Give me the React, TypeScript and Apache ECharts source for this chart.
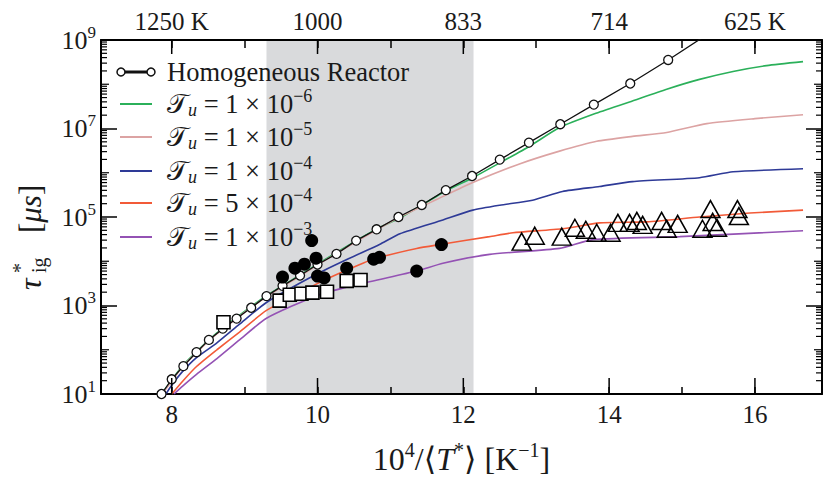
import React, { useEffect, useRef } from 'react';
import * as echarts from 'echarts';

const X_MIN = 7.03;
const X_MAX = 16.92;
const Y_MIN_EXP = 1;
const Y_MAX_EXP = 9;
const BAND = [9.3, 12.14];

const xMajorTicks = [8, 10, 12, 14, 16];
const topTickLabels = ['1250 K', '1000', '833', '714', '625 K'];

// Homogeneous reactor (open circles + black line)
const reactorX = [7.86, 8.0, 8.16, 8.34, 8.51, 8.7, 8.89, 9.09, 9.3, 9.52, 9.76, 10.0, 10.26, 10.53, 10.81, 11.11, 11.43, 11.76, 12.12, 12.5, 12.9, 13.33, 13.79, 14.29, 14.81];
const reactorTau = [1.0e1, 2.15e1, 4.26e1, 8.8e1, 1.67e2, 3.0e2, 5.06e2, 8.9e2, 1.63e3, 2.78e3, 4.76e3, 8.45e3, 1.47e4, 2.93e4, 5.27e4, 1.0e5, 1.87e5, 4.05e5, 8.45e5, 1.98e6, 4.8e6, 1.25e7, 3.47e7, 1.04e8, 3.54e8];
const reactorTailX = 15.38;
const reactorTailTau = 1.45e9;

// Tu = 1e-6
const g6X = [7.86, 8.0, 8.15, 8.34, 8.52, 8.89, 9.3, 9.76, 10.26, 10.81, 11.13, 11.77, 12.13, 12.5, 12.91, 13.32, 13.8, 14.28, 14.79, 15.24, 15.7, 16.16, 16.66];
const g6Tau = [1.0e1, 2.05e1, 4.4e1, 9.0e1, 1.75e2, 5.4e2, 1.67e3, 4.89e3, 1.58e4, 5.4e4, 9.5e4, 3.98e5, 7.74e5, 1.67e6, 3.98e6, 1.05e7, 2.15e7, 3.98e7, 7.74e7, 1.29e8, 1.95e8, 2.64e8, 3.24e8];

// Tu = 1e-5
const g5X = [7.87, 8.0, 8.15, 8.34, 8.52, 8.89, 9.3, 9.76, 10.26, 10.81, 11.13, 11.64, 12.13, 12.77, 13.32, 13.83, 14.32, 14.79, 15.34, 16.0, 16.66];
const g5Tau = [1.0e1, 1.95e1, 4.19e1, 8.57e1, 1.67e2, 5.14e2, 1.58e3, 4.64e3, 1.51e4, 5.14e4, 1.0e5, 2.51e5, 6.0e5, 1.58e6, 3.08e6, 5.14e6, 6.64e6, 8.15e6, 1.29e7, 1.67e7, 2.05e7];

// Tu = 1e-4
const g4X = [7.92, 8.0, 8.15, 8.34, 8.62, 8.93, 9.3, 9.99, 10.44, 10.85, 11.13, 11.72, 12.13, 12.5, 12.95, 13.36, 13.87, 14.32, 15.24, 15.7, 16.66];
const g4Tau = [1.0e1, 1.58e1, 3.24e1, 6.64e1, 1.43e2, 3.78e2, 1.17e3, 5.14e3, 1.17e4, 2.39e4, 4.19e4, 8.57e4, 1.43e5, 1.85e5, 2.39e5, 3.78e5, 4.89e5, 6.31e5, 7.74e5, 1.05e6, 1.23e6];

// Tu = 5e-4
const g54X = [8.0, 8.15, 8.34, 8.62, 8.93, 9.3, 9.99, 10.37, 10.76, 11.36, 11.68, 12.36, 12.68, 13.36, 13.87, 14.52, 15.24, 15.93, 16.66];
const g54Tau = [1.0e1, 1.95e1, 4.19e1, 1.0e2, 2.51e2, 7.74e2, 3.08e3, 6.0e3, 1.11e4, 1.95e4, 2.39e4, 3.6e4, 4.41e4, 5.41e4, 7.36e4, 7.74e4, 1.0e5, 1.23e5, 1.43e5];

// Tu = 1e-3
const g3X = [8.03, 8.15, 8.34, 8.62, 8.93, 9.3, 9.99, 10.58, 11.36, 11.72, 12.36, 13.32, 13.78, 14.97, 16.66];
const g3Tau = [1.0e1, 1.51e1, 2.78e1, 6.31e1, 1.67e2, 5.14e2, 1.67e3, 3.08e3, 6.0e3, 9.04e3, 1.43e4, 1.95e4, 3.08e4, 3.6e4, 4.89e4];

// Experimental points
const dotX = [9.52, 9.69, 9.82, 9.92, 9.98, 10.0, 10.09, 10.4, 10.77, 10.85, 11.36, 11.7];
const dotTau = [4.4e3, 6.98e3, 8.58e3, 2.93e4, 1.17e4, 4.64e3, 4.19e3, 6.98e3, 1.11e4, 1.23e4, 6.0e3, 2.39e4];

const squareX = [8.71, 9.48, 9.62, 9.78, 9.93, 10.13, 10.4, 10.59];
const squareTau = [4.19e2, 1.29e3, 1.75e3, 1.85e3, 1.95e3, 2.05e3, 3.6e3, 3.78e3];

const triX = [12.8, 12.98, 13.35, 13.53, 13.68, 13.83, 14.02, 14.12, 14.28, 14.38, 14.46, 14.72, 14.79, 14.94, 15.28, 15.39, 15.42, 15.48, 15.76, 15.78];
const triTau = [2.78e4, 3.78e4, 3.6e4, 5.7e4, 5.14e4, 4.41e4, 4.41e4, 7.36e4, 7.36e4, 8.15e4, 6.64e4, 8.15e4, 5.41e4, 6.99e4, 5.41e4, 1.51e5, 7.74e4, 5.7e4, 1.51e5, 1.05e5];

const legendNames = ['Homogeneous Reactor', '1 × 10', '1 × 10', '1 × 10', '5 × 10', '1 × 10'];
const legendExps = ['', '−6', '−5', '−4', '−4', '−3'];
const COLORS = ['#111111', '#2bb05a', '#dca3a3', '#2e3a97', '#f25a38', '#9452b4'];

const FONT = '"Liberation Serif", "DejaVu Serif", serif';

const pts = (xs: number[], ts: number[]) => xs.map((x, i) => [x, Math.log10(ts[i])]);

export default function App() {
  const ref = useRef<HTMLDivElement>(null);
  useEffect(() => {
    const chart = echarts.init(ref.current!, null, { renderer: 'svg' });

    const yTickData: number[][] = [];
    for (let d = Y_MIN_EXP; d < Y_MAX_EXP; d++) {
      if (d % 2 === 0) yTickData.push([X_MIN, d, 8]);
      for (let k = 2; k <= 9; k++) yTickData.push([X_MIN, d + Math.log10(k), 6]);
    }

    const lineSeries = (name: string, data: number[][], color: string) => ({
      name,
      type: 'line',
      data,
      showSymbol: false,
      symbol: 'none',
      smooth: 0.2,
      lineStyle: { color, width: 1.6 },
      z: 2,
      silent: true,
    });

    const legendY = [72, 104, 137, 171, 203, 237];
    const graphics: any[] = [];
    legendY.forEach((y, i) => {
      graphics.push({
        type: 'line', z: 100,
        shape: { x1: 120, y1: y, x2: 152, y2: y },
        style: { stroke: COLORS[i], lineWidth: i === 0 ? 3 : 2 },
      });
      if (i === 0) {
        [121, 151].forEach((cx) =>
          graphics.push({
            type: 'circle', z: 101,
            shape: { cx, cy: y, r: 4 },
            style: { fill: '#fff', stroke: '#111', lineWidth: 1.5 },
          })
        );
        graphics.push({
          type: 'text', z: 100, x: 167, y,
          style: { text: legendNames[0], fontSize: 26.5, fontFamily: FONT, fill: '#1a1a1a', align: 'left', verticalAlign: 'middle' },
        });
      } else {
        graphics.push({
          type: 'text', z: 100, x: 167, y,
          style: {
            text: `{t|𝒯}{u|u} = ${legendNames[i]}{e|${legendExps[i]}}`,
            fontSize: 26.5, fontFamily: FONT, fill: '#1a1a1a', align: 'left', verticalAlign: 'middle',
            rich: {
              t: { fontSize: 27, fontFamily: FONT, fill: '#1a1a1a' },
              u: { fontSize: 18, fontFamily: FONT, fontStyle: 'italic', fill: '#1a1a1a', padding: [12, 0, 0, 0] },
              e: { fontSize: 18, fontFamily: FONT, fill: '#1a1a1a', padding: [0, 0, 16, 0] },
            },
          },
        });
      }
    });

    // y-axis title (rotated)
    graphics.push({
      type: 'group', x: 30, y: 233, rotation: Math.PI / 2, z: 100,
      children: [
        { type: 'text', x: -57, y: 0, style: { text: 'τ', fontSize: 32, fontStyle: 'italic', fontFamily: FONT, fill: '#1a1a1a', align: 'left', verticalAlign: 'middle' } },
        { type: 'text', x: -40, y: -10, style: { text: '*', fontSize: 20, fontFamily: FONT, fill: '#1a1a1a', align: 'left', verticalAlign: 'middle' } },
        { type: 'text', x: -40, y: 9, style: { text: 'ig', fontSize: 20, fontFamily: FONT, fill: '#1a1a1a', align: 'left', verticalAlign: 'middle' } },
        { type: 'text', x: 0, y: 0, style: { text: '[{i|μs}]', fontSize: 31, fontFamily: FONT, fill: '#1a1a1a', align: 'left', verticalAlign: 'middle', rich: { i: { fontSize: 31, fontStyle: 'italic', fontFamily: FONT, fill: '#1a1a1a' } } } },
      ],
    });

    const tickLine = { color: '#000', width: 1.5 };
    const isEvenInt = (v: number) => Math.abs(v - Math.round(v)) < 1e-6 && Math.round(v) % 2 === 0;

    const option: any = {
      animation: false,
      backgroundColor: '#fff',
      grid: { left: 101, right: 3, top: 40, bottom: 80 },
      xAxis: [
        {
          type: 'value', position: 'bottom', min: X_MIN, max: X_MAX, minInterval: 1, maxInterval: 1,
          axisLine: { onZero: false, lineStyle: { color: '#000', width: 2 } },
          axisTick: { inside: true, length: 7, lineStyle: tickLine },
          splitLine: { show: false },
          axisLabel: {
            interval: 0, margin: 8, fontSize: 25, fontFamily: FONT, color: '#1a1a1a',
            formatter: (v: number) => (isEvenInt(v) && xMajorTicks.includes(Math.round(v)) ? String(Math.round(v)) : ''),
          },
          name: '10{s|4}/⟨{i|T}{s|*}⟩ [K{s|−1}]',
          nameLocation: 'middle', nameGap: 46,
          nameTextStyle: {
            fontSize: 32, fontFamily: FONT, color: '#1a1a1a',
            rich: {
              s: { fontSize: 20, fontFamily: FONT, color: '#1a1a1a', padding: [0, 0, 18, 0] },
              i: { fontSize: 32, fontFamily: FONT, fontStyle: 'italic', color: '#1a1a1a' },
            },
          },
        },
        {
          type: 'value', position: 'top', min: X_MIN, max: X_MAX, minInterval: 1, maxInterval: 1,
          axisLine: { onZero: false, lineStyle: { color: '#000', width: 2 } },
          axisTick: { inside: true, length: 8, lineStyle: tickLine },
          splitLine: { show: false },
          axisLabel: {
            interval: 0, margin: 6, fontSize: 25, fontFamily: FONT, color: '#1a1a1a',
            formatter: (v: number) => {
              const idx = xMajorTicks.indexOf(Math.round(v));
              return isEvenInt(v) && idx >= 0 ? topTickLabels[idx] : '';
            },
          },
        },
      ],
      yAxis: [
        {
          type: 'value', position: 'left', min: Y_MIN_EXP, max: Y_MAX_EXP, interval: 2,
          axisLine: { onZero: false, lineStyle: { color: '#000', width: 2 } },
          axisTick: { inside: true, length: 16, lineStyle: tickLine },
          splitLine: { show: false },
          axisLabel: {
            margin: 5, showMinLabel: true, showMaxLabel: true,
            formatter: (v: number) => `{b|10}{s|${Math.round(v)}}`,
            rich: {
              b: { fontSize: 26, fontFamily: FONT, color: '#1a1a1a' },
              s: { fontSize: 17, fontFamily: FONT, color: '#1a1a1a', padding: [0, 0, 16, 0] },
            },
          },
        },
        {
          type: 'value', position: 'right', min: Y_MIN_EXP, max: Y_MAX_EXP, interval: 2,
          axisLine: { onZero: false, lineStyle: { color: '#000', width: 2 } },
          axisTick: { inside: true, length: 16, lineStyle: tickLine },
          splitLine: { show: false },
          axisLabel: { show: false },
        },
      ],
      graphic: graphics,
      series: [
        {
          type: 'custom', name: 'band', silent: true, z: 0,
          data: [[BAND[0], BAND[1]]],
          encode: { x: 0, y: 1 },
          renderItem: (_p: any, api: any) => {
            const a = api.coord([api.value(0), Y_MAX_EXP]);
            const b = api.coord([api.value(1), Y_MIN_EXP]);
            return { type: 'rect', shape: { x: a[0], y: a[1], width: b[0] - a[0], height: b[1] - a[1] }, style: { fill: '#d9dadc' } };
          },
        },
        lineSeries('Tu=1e-6', pts(g6X, g6Tau), COLORS[1]),
        lineSeries('Tu=1e-5', pts(g5X, g5Tau), COLORS[2]),
        lineSeries('Tu=1e-4', pts(g4X, g4Tau), COLORS[3]),
        lineSeries('Tu=5e-4', pts(g54X, g54Tau), COLORS[4]),
        lineSeries('Tu=1e-3', pts(g3X, g3Tau), COLORS[5]),
        {
          name: 'Homogeneous Reactor', type: 'line', z: 3, silent: true,
          data: [...pts(reactorX, reactorTau), { value: [reactorTailX, Math.log10(reactorTailTau)], symbol: 'none' }],
          symbol: 'circle', symbolSize: 9, showSymbol: true,
          itemStyle: { color: '#fff', borderColor: '#111', borderWidth: 1.3, opacity: 1 },
          lineStyle: { color: '#111', width: 1.3 },
        },
        {
          name: 'squares', type: 'scatter', z: 4, silent: true,
          data: pts(squareX, squareTau), symbol: 'rect', symbolSize: 13,
          itemStyle: { color: '#fff', borderColor: '#000', borderWidth: 1.6, opacity: 1 },
        },
        {
          name: 'dots', type: 'scatter', z: 4, silent: true,
          data: pts(dotX, dotTau), symbol: 'circle', symbolSize: 13,
          itemStyle: { color: '#000', opacity: 1 },
        },
        {
          name: 'triangles', type: 'scatter', z: 4, silent: true,
          data: pts(triX, triTau), symbol: 'triangle', symbolSize: [19, 17],
          itemStyle: { color: 'transparent', borderColor: '#000', borderWidth: 1.5, opacity: 1 },
        },
        {
          type: 'custom', name: 'xMajor', silent: true, z: 6,
          data: xMajorTicks.map((x) => [x, Y_MIN_EXP]),
          encode: { x: 0, y: 1 },
          renderItem: (_p: any, api: any) => {
            const x = api.value(0);
            const b = api.coord([x, Y_MIN_EXP]);
            const t = api.coord([x, Y_MAX_EXP]);
            return {
              type: 'group',
              children: [
                { type: 'line', shape: { x1: b[0], y1: b[1], x2: b[0], y2: b[1] - 16 }, style: { stroke: '#000', lineWidth: 1.5 } },
                { type: 'line', shape: { x1: t[0], y1: t[1], x2: t[0], y2: t[1] + 14 }, style: { stroke: '#000', lineWidth: 1.5 } },
              ],
            };
          },
        },
        {
          type: 'custom', name: 'yMinor', silent: true, z: 6,
          data: yTickData,
          encode: { x: 0, y: 1 },
          renderItem: (_p: any, api: any) => {
            const e = api.value(1);
            const len = api.value(2);
            const l = api.coord([X_MIN, e]);
            const r = api.coord([X_MAX, e]);
            return {
              type: 'group',
              children: [
                { type: 'line', shape: { x1: l[0], y1: l[1], x2: l[0] + len, y2: l[1] }, style: { stroke: '#000', lineWidth: 1.2 } },
                { type: 'line', shape: { x1: r[0], y1: r[1], x2: r[0] - len, y2: r[1] }, style: { stroke: '#000', lineWidth: 1.2 } },
              ],
            };
          },
        },
      ],
    };
    chart.setOption(option);
    return () => chart.dispose();
  }, []);
  return <div ref={ref} style={{ width: 825, height: 480, position: 'absolute', left: 0, top: 0, background: '#fff' }} />;
}
